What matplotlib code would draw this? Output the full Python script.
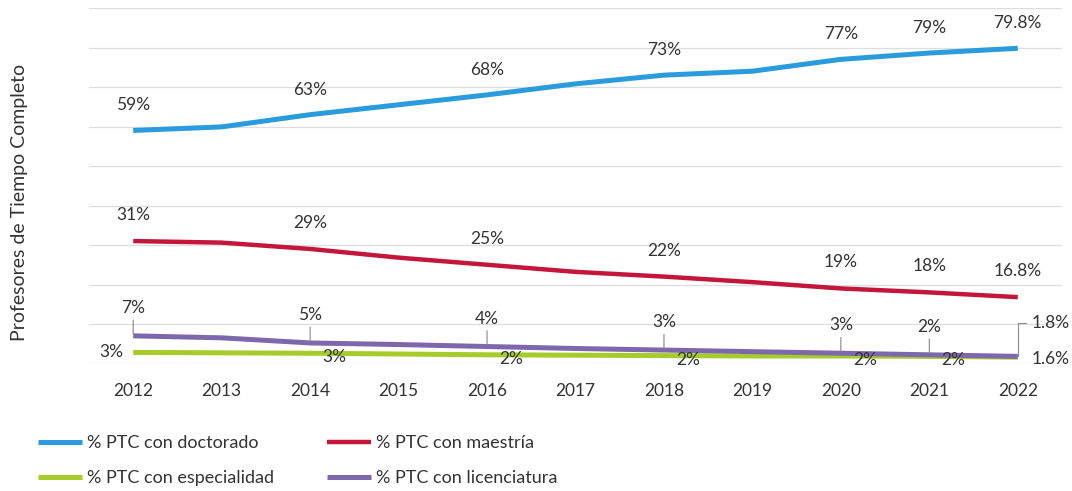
import matplotlib
matplotlib.use("Agg")
import matplotlib.pyplot as plt

years = ["2012", "2013", "2014", "2015", "2016", "2017", "2018", "2019", "2020", "2021", "2022"]
doctorado = [59, 59.9, 63, 65.5, 68, 70.8, 73, 74.0, 77, 78.6, 79.8]
maestria = [31, 30.6, 29, 26.8, 25, 23.2, 22, 20.6, 19, 18, 16.8]
especialidad = [2.8, 2.7, 2.6, 2.4, 2.2, 2.1, 2.0, 1.9, 1.9, 1.8, 1.6]
licenciatura = [7, 6.5, 5.2, 4.8, 4.3, 3.8, 3.4, 3.0, 2.6, 2.2, 1.8]

# label indices and texts
doc_lbl = {0: "59%", 2: "63%", 4: "68%", 6: "73%", 8: "77%", 9: "79%", 10: "79.8%"}
mae_lbl = {0: "31%", 2: "29%", 4: "25%", 6: "22%", 8: "19%", 9: "18%", 10: "16.8%"}
lic_lbl = {0: "7%", 2: "5%", 4: "4%", 6: "3%", 8: "3%", 9: "2%"}
esp_lbl = {2: "3%", 4: "2%", 6: "2%", 8: "2%", 9: "2%"}

series_names = ["% PTC con doctorado", "% PTC con maestría",
                "% PTC con especialidad", "% PTC con licenciatura"]
colors = ["#2A9BDC", "#C4163B", "#A6CB2A", "#7D68AE"]

plt.rcParams["font.family"] = ["Lato", "DejaVu Sans"]
txtc = "#333333"

fig = plt.figure(figsize=(10.72, 4.91), dpi=100)
ax = fig.add_axes([89/1072, 1 - 363.5/491, (1062-89)/1072, (363.5-8)/491])

x = list(range(len(years)))
l1, = ax.plot(x, doctorado, color=colors[0], lw=3.6, solid_capstyle="butt", label=series_names[0])
l2, = ax.plot(x, maestria, color=colors[1], lw=3.2, solid_capstyle="butt", label=series_names[1])
l3, = ax.plot(x, especialidad, color=colors[2], lw=3.6, solid_capstyle="butt", label=series_names[2])
l4, = ax.plot(x, licenciatura, color=colors[3], lw=3.6, solid_capstyle="butt", label=series_names[3])

ax.set_xlim(-0.5, len(years) - 0.5)
ax.set_ylim(0, 90)
ax.set_yticks(range(0, 91, 10))
ax.set_yticklabels([])
ax.tick_params(axis="y", length=0)
ax.set_xticks(x)
ax.set_xticklabels(years, fontsize=12.5, color=txtc)
ax.tick_params(axis="x", length=0, pad=14)
ax.grid(axis="y", color="#dddddd", lw=0.9)
ax.set_axisbelow(True)
for s in ax.spines.values():
    s.set_visible(False)

fs = 12.5
for i, t in doc_lbl.items():
    ax.annotate(t, (i, doctorado[i]), xytext=(0, 25), textcoords="offset pixels",
                ha="center", va="center", fontsize=fs, color=txtc)
for i, t in mae_lbl.items():
    ax.annotate(t, (i, maestria[i]), xytext=(0, 26), textcoords="offset pixels",
                ha="center", va="center", fontsize=fs, color=txtc)
for i, t in lic_lbl.items():
    ax.annotate(t, (i, licenciatura[i]), xytext=(0, 28), textcoords="offset pixels",
                ha="center", va="center", fontsize=fs, color=txtc,
                arrowprops=dict(arrowstyle="-", color="#888888", lw=0.8,
                                shrinkA=1, shrinkB=1))
ax.annotate("1.8%", (10, licenciatura[10]), xytext=(14, 33), textcoords="offset pixels",
            ha="left", va="center", fontsize=fs, color=txtc,
            arrowprops=dict(arrowstyle="-", color="#888888", lw=0.8,
                            connectionstyle="angle,angleA=0,angleB=90,rad=0",
                            shrinkA=2, shrinkB=0))
ax.annotate("3%", (0, especialidad[0]), xytext=(-10, 0), textcoords="offset pixels",
            ha="right", va="center", fontsize=fs, color=txtc)
for i, t in esp_lbl.items():
    ax.annotate(t, (i, especialidad[i]), xytext=(24, -4), textcoords="offset pixels",
                ha="center", va="center", fontsize=fs, color=txtc)
ax.annotate("1.6%", (10, especialidad[10]), xytext=(14, -2), textcoords="offset pixels",
            ha="left", va="center", fontsize=fs, color=txtc)

fig.text(20/1072, 1 - 202/491, "Profesores de Tiempo Completo", rotation=90,
         ha="center", va="center", fontsize=14, color=txtc)

fig.legend(handles=[l1, l3, l2, l4], loc="upper left", ncol=2,
           bbox_to_anchor=(22/1072, 1 - 419/491), frameon=False, fontsize=13,
           handlelength=2.4, handletextpad=0.3, columnspacing=2.95,
           labelspacing=1.05, labelcolor=txtc)

fig.savefig("out.png", dpi=100, facecolor="white")
